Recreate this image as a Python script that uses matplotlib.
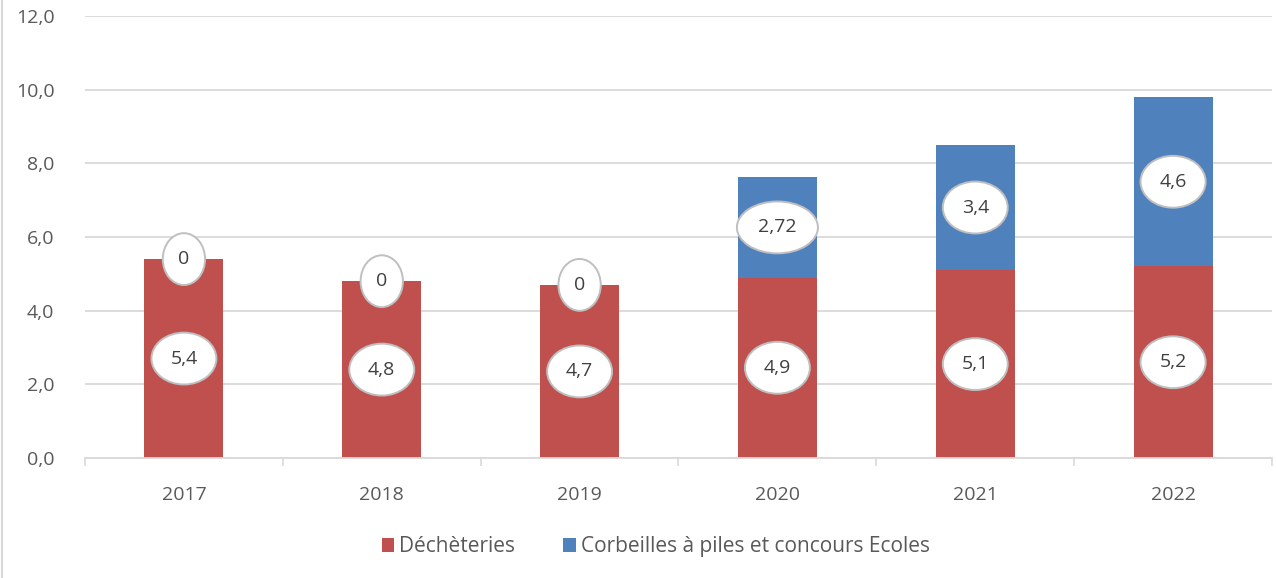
import numpy as np
from matplotlib import pyplot as plt
from matplotlib.lines import Line2D

years = ['2017', '2018', '2019', '2020', '2021', '2022']
decheteries = [5.4, 4.8, 4.7, 4.9, 5.1, 5.2]
corbeilles = [0, 0, 0, 2.72, 3.4, 4.6]
deche_labels = ['5,4', '4,8', '4,7', '4,9', '5,1', '5,2']
corb_labels = ['0', '0', '0', '2,72', '3,4', '4,6']
yticks = [0, 2, 4, 6, 8, 10, 12]

RED = '#c0504d'
BLUE = '#4f81bd'
TXT = '#595959'

plt.rcParams['font.family'] = ['Open Sans', 'DejaVu Sans']

fig = plt.figure(figsize=(12.76, 5.78), dpi=100)
ax = fig.add_axes([85 / 1276, 1 - 458 / 578, 1187 / 1276, 442 / 578])

x = np.arange(len(years))
w = 0.40
ax.bar(x, decheteries, width=w, color=RED, zorder=2, label='Déchèteries')
ax.bar(x, corbeilles, width=w, bottom=decheteries, color=BLUE, zorder=2,
       label='Corbeilles à piles et concours Ecoles')

box = dict(boxstyle='ellipse,pad=0.48', fc='white', ec='#bfbfbf', lw=1.4)
for i in range(len(years)):
    ax.text(x[i], decheteries[i] / 2, deche_labels[i], ha='center', va='center',
            fontsize=14, color='#404040', bbox=box, zorder=3)
    ax.text(x[i], decheteries[i] + corbeilles[i] / 2, corb_labels[i], ha='center',
            va='center', fontsize=14, color='#404040', bbox=box, zorder=3)

ax.set_xlim(-0.5, len(years) - 0.5)
ax.set_ylim(0, 12)
ax.set_yticks(yticks)
ax.set_yticklabels(['{:.1f}'.format(v).replace('.', ',') for v in yticks])
ax.set_xticks(x)
ax.set_xticklabels(years)
ax.set_xticks(np.arange(-0.5, len(years)), minor=True)
ax.tick_params(axis='x', which='major', length=0, pad=20, labelsize=14, labelcolor=TXT)
ax.tick_params(axis='x', which='minor', length=6, color='#d9d9d9', width=1.2)
ax.tick_params(axis='y', length=0, pad=22, labelsize=14, labelcolor=TXT)
ax.grid(axis='y', color='#d9d9d9', lw=1.3, zorder=0)
for s in ['top', 'right', 'left']:
    ax.spines[s].set_visible(False)
ax.spines['bottom'].set_color('#d9d9d9')
ax.spines['bottom'].set_linewidth(1.3)

ax.legend(loc='upper center', bbox_to_anchor=(0.481, -0.135), ncol=2, frameon=False,
          fontsize=15, labelcolor=TXT, handlelength=0.6, handleheight=0.6,
          handletextpad=0.25, columnspacing=2.3)

# chart frame on the left edge
fig.add_artist(Line2D([2 / 1276, 2 / 1276], [0, 1], transform=fig.transFigure,
                      color='#d9d9d9', lw=1.5))

fig.savefig('out.png', dpi=100)
